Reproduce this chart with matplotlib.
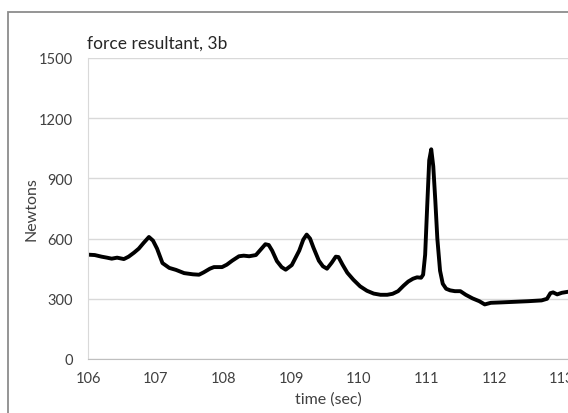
import matplotlib.pyplot as plt
from matplotlib.patches import Rectangle

# data
time_s = [106.0, 106.1, 106.2, 106.28, 106.35, 106.43, 106.53, 106.6, 106.68, 106.75,
          106.82, 106.9, 106.96, 107.02, 107.1, 107.2, 107.3, 107.42, 107.55, 107.64,
          107.71, 107.8, 107.86, 107.98, 108.05, 108.13, 108.23, 108.3, 108.38, 108.48,
          108.55, 108.62, 108.67, 108.72, 108.79, 108.86, 108.92, 109.01, 109.12, 109.18,
          109.23, 109.28, 109.33, 109.41, 109.47, 109.53, 109.6, 109.66, 109.7, 109.76,
          109.83, 109.92, 110.02, 110.12, 110.22, 110.32, 110.42, 110.5, 110.58, 110.66,
          110.73, 110.8, 110.86, 110.92, 110.95, 110.98, 111.01, 111.04, 111.07, 111.1,
          111.13, 111.16, 111.2, 111.24, 111.29, 111.35, 111.42, 111.5, 111.58, 111.68,
          111.78, 111.86, 111.95, 112.1, 112.3, 112.5, 112.7, 112.78, 112.83, 112.87,
          112.93, 113.0, 113.09]
force_n = [520, 518, 510, 505, 500, 505, 498, 510, 530, 550,
           578, 608, 590, 550, 478, 454, 444, 428, 422, 420,
           432, 450, 458, 458, 470, 490, 512, 515, 512, 518,
           545, 572, 568, 540, 488, 458, 445, 468, 540, 595,
           620, 600, 555, 490, 462, 450, 480, 510, 508, 470,
           430, 395, 362, 340, 326, 320, 320, 325, 338, 365,
           386, 400, 407, 405, 420, 520, 760, 990, 1045, 960,
           790, 600, 440, 375, 350, 342, 338, 338, 320, 302,
           288, 272, 280, 282, 285, 288, 292, 300, 328, 332,
           322, 330, 335]

plt.rcParams['font.family'] = ['Lato', 'DejaVu Sans']

fig = plt.figure(figsize=(5.68, 4.14), dpi=100)
# chart border (cropped excel chart)
fig.patches.append(Rectangle((8 / 568, -0.1), 1.2, 1 - 13 / 414 + 0.1, transform=fig.transFigure,
                             fill=False, edgecolor='#8c8c8c', linewidth=1.3))

ax = fig.add_axes([88 / 568, 54 / 414, 480 / 568, 301 / 414])
ax.plot(time_s, force_n, color='black', linewidth=2.8, solid_joinstyle='round')

ax.set_xlim(106, 113.09)
ax.set_ylim(0, 1500)
ax.set_xticks(range(106, 114))
ax.set_yticks(range(0, 1501, 300))
ax.grid(axis='y', color='#d9d9d9', linewidth=1)
ax.set_axisbelow(True)
for s in ['top', 'right']:
    ax.spines[s].set_visible(False)
ax.spines['left'].set_color('#d9d9d9')
ax.spines['bottom'].set_color('#bfbfbf')
ax.tick_params(length=0, labelsize=10.5, colors='#404040')
ax.tick_params(axis='y', pad=11)
ax.tick_params(axis='x', pad=9)
for lab in ax.get_xticklabels():
    lab.set_clip_on(False)

ax.set_xlabel('time (sec)', fontsize=11.5, color='#404040', labelpad=4)
ax.set_ylabel('Newtons', fontsize=11.5, color='#404040', labelpad=0)
fig.text(87 / 568, 1 - 44 / 414, 'force resultant, 3b', fontsize=12.5, color='#262626',
         ha='left', va='center')

plt.savefig('out.png', dpi=100)
